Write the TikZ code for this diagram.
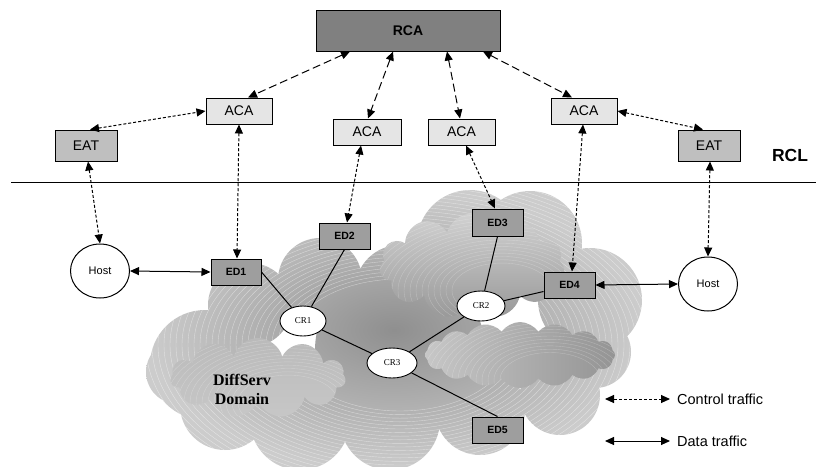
\documentclass[tikz,border=0pt]{standalone}
\usepackage{fontspec}
\setmainfont{Liberation Sans}
\newfontfamily\timesfont{Liberation Serif}
\usetikzlibrary{arrows.meta,calc,shapes.geometric,shapes.symbols}

\definecolor{cloudedge}{gray}{0.80}
\definecolor{cloudmid}{gray}{0.56}
\definecolor{innertop}{gray}{0.82}
\definecolor{innerbot}{gray}{0.60}

% outline of the DiffServ cloud as a union of circles
\def\cloudouter{%
  (205,365) circle[radius=55]
  (178,372) circle[radius=32]
  (250,305) circle[radius=42]
  (320,280) circle[radius=42]
  (400,290) circle[radius=45]
  (470,243) circle[radius=53]
  (530,243) circle[radius=52]
  (590,300) circle[radius=52]
  (595,352) circle[radius=36]
  (560,395) circle[radius=40]
  (480,410) circle[radius=45]
  (390,420) circle[radius=50]
  (300,420) circle[radius=50]
  (225,405) circle[radius=45]
  (400,350) circle[radius=85]}

\begin{document}
\begin{tikzpicture}[x=1pt,y=-1pt,
  >={Triangle[length=9pt,width=8pt]},
  box/.style={draw, line width=1pt, inner sep=0pt},
  rcabox/.style={box, fill=black!50, minimum width=184pt, minimum height=41pt,
    font=\fontsize{14}{16}\selectfont\bfseries},
  acabox/.style={box, fill=black!10, minimum width=67pt, minimum height=26pt,
    font=\fontsize{14}{16}\selectfont},
  eatbox/.style={box, fill=black!25, minimum width=62pt, minimum height=31pt,
    font=\fontsize{14}{16}\selectfont},
  edbox/.style={box, fill=black!38, minimum width=51pt, minimum height=26pt,
    font=\fontsize{10.5}{12}\selectfont\bfseries},
  hostnode/.style={ellipse, draw, fill=white, line width=1pt, inner sep=0pt,
    minimum width=59pt, minimum height=54pt, font=\fontsize{11}{13}\selectfont},
  corenode/.style={ellipse, draw, fill=white, line width=0.9pt, inner sep=0pt,
    minimum width=47pt, minimum height=30pt, font=\timesfont\fontsize{9}{11}\selectfont},
  ctrl/.style={<->, line width=1pt, dash pattern=on 3pt off 2pt},
  rcalink/.style={<->, line width=1pt, dash pattern=on 8pt off 4pt},
  datalink/.style={<->, line width=1pt},
  link/.style={line width=1pt},
  stripe/.style={white, opacity=.45, line width=.4pt},
  puff/.style={cloud, inner sep=0pt, draw=none,
    path picture={
      \foreach \r in {50,56,...,220}
        \draw[stripe, opacity=.25] ([xshift=30pt,yshift=-25pt]path picture bounding box.center)
          ellipse [x radius=\r, y radius=0.55*\r];}},
  legend/.style={anchor=west, inner sep=0pt, font=\fontsize{14.5}{16}\selectfont}]

\useasboundingbox (0,0) rectangle (816,466);

% ---- DiffServ cloud ----
\begin{scope}
  \clip (0,0) rectangle (816,466);
  \shade[inner color=cloudmid, outer color=cloudedge] \cloudouter;
  \begin{scope}
    \clip \cloudouter;
    \foreach \r in {110,116,...,330}
      \draw[stripe] (400,345) ellipse [x radius=\r, y radius=0.6*\r];
  \end{scope}
  % lighter inner clouds
  \node[puff, cloud puffs=11, aspect=2.2, minimum width=175pt, minimum height=80pt,
        top color=black!27, bottom color=black!22] (cloudL) at (258,378) {};
  \node[puff, cloud puffs=11, aspect=1.8, minimum width=185pt, minimum height=105pt,
        top color=innertop, bottom color=innerbot] (cloudU) at (472,266) {};
  \node[puff, cloud puffs=16, cloud puff arc=110, aspect=2.9, minimum width=190pt, minimum height=66pt,
        left color=black!22, right color=black!42] (cloudR) at (520,355) {};
\end{scope}

% ---- RCL separator ----
\coordinate (sepL) at (11,182);
\coordinate (sepR) at (816,182);
\draw[line width=1pt] (sepL) -- (sepR);
\node[font=\fontsize{17.5}{20}\selectfont\bfseries] (rcl) at (790,155) {RCL};

% ---- boxes ----
\node[rcabox] (RCA) at (408,30.5) {RCA};
\node[acabox, minimum width=66pt] (ACA1) at (239,111) {ACA};
\node[acabox, minimum width=68pt] (ACA2) at (367,132) {ACA};
\node[acabox] (ACA3) at (461.5,132) {ACA};
\node[acabox, minimum width=66pt] (ACA4) at (584,111) {ACA};
\node[eatbox] (EAT1) at (86,145.5) {EAT};
\node[eatbox] (EAT2) at (709,145.5) {EAT};

\node[edbox, minimum width=50pt] (ED1) at (236,272) {ED1};
\node[edbox] (ED2) at (344.5,236) {ED2};
\node[edbox, minimum height=27pt] (ED3) at (497.5,222.5) {ED3};
\node[edbox] (ED4) at (569.5,285) {ED4};
\node[edbox] (ED5) at (497.5,430) {ED5};

\node[hostnode] (H1) at (100,271) {Host};
\node[hostnode] (H2) at (708,284) {Host};

\node[corenode, minimum width=46pt] (CR1) at (303,321) {CR1};
\node[corenode, minimum width=48pt] (CR2) at (481,306) {CR2};
\node[corenode, minimum width=50pt] (CR3) at (392,363) {CR3};

\node[font=\timesfont\bfseries\fontsize{16}{19}\selectfont, align=center] (dom) at (242,389) {DiffServ\\Domain};

% ---- links inside the domain ----
\draw[link] (ED1.east) -- (CR1);
\draw[link] (ED2.south) -- (CR1);
\draw[link] (ED3.south) -- (CR2);
\draw[link] ($(ED4.west)+(0,6.5)$) -- (CR2);
\draw[link] (CR1) -- (CR3);
\draw[link] (CR3) -- (CR2);
\draw[link] (CR3) -- (ED5.north);

% ---- RCA signalling ----
\draw[rcalink] ($(RCA.south)+(-58,0)$) -- ($(ACA1.north)+(9,0)$);
\draw[rcalink] ($(RCA.south)+(-15,0)$) -- ($(ACA2.north)+(1,0)$);
\draw[rcalink] ($(RCA.south)+(39,0)$) -- ($(ACA3.north)+(-1.5,0)$);
\draw[rcalink] ($(RCA.south)+(75,0)$) -- ($(ACA4.north)+(-12,0)$);

% ---- control traffic ----
\draw[ctrl] ($(EAT1.north)+(4,0)$) -- (ACA1.west);
\draw[ctrl] (ACA1.south) -- ($(ED1.north)+(1,0)$);
\draw[ctrl] ($(EAT1.south)+(2,0)$) -- (H1.north);
\draw[ctrl] ($(ACA2.south)+(-6,0)$) -- ($(ED2.north)+(2.5,0)$);
\draw[ctrl] ($(ACA3.south)+(4.5,0)$) -- ($(ED3.north)+(-2.5,0)$);
\draw[ctrl] ($(ACA4.south)+(-1,0)$) -- ($(ED4.north)+(2.5,0)$);
\draw[ctrl] (ACA4.east) -- ($(EAT2.north)+(-6,0)$);
\draw[ctrl] ($(EAT2.south)+(1,0)$) -- (H2.north);

% ---- data traffic ----
\draw[datalink] (H1.east) -- (ED1.west);
\draw[datalink] (ED4.east) -- (H2.west);

% ---- legend ----
\coordinate (c1) at (605,399);
\coordinate (c2) at (670,399);
\coordinate (d1) at (605,441);
\coordinate (d2) at (670,441);
\draw[ctrl] (c1) -- (c2);
\draw[datalink] (d1) -- (d2);
\node[legend] (ctrltxt) at (677,399) {Control traffic};
\node[legend] (datatxt) at (677,441) {Data traffic};
\end{tikzpicture}
\end{document}
